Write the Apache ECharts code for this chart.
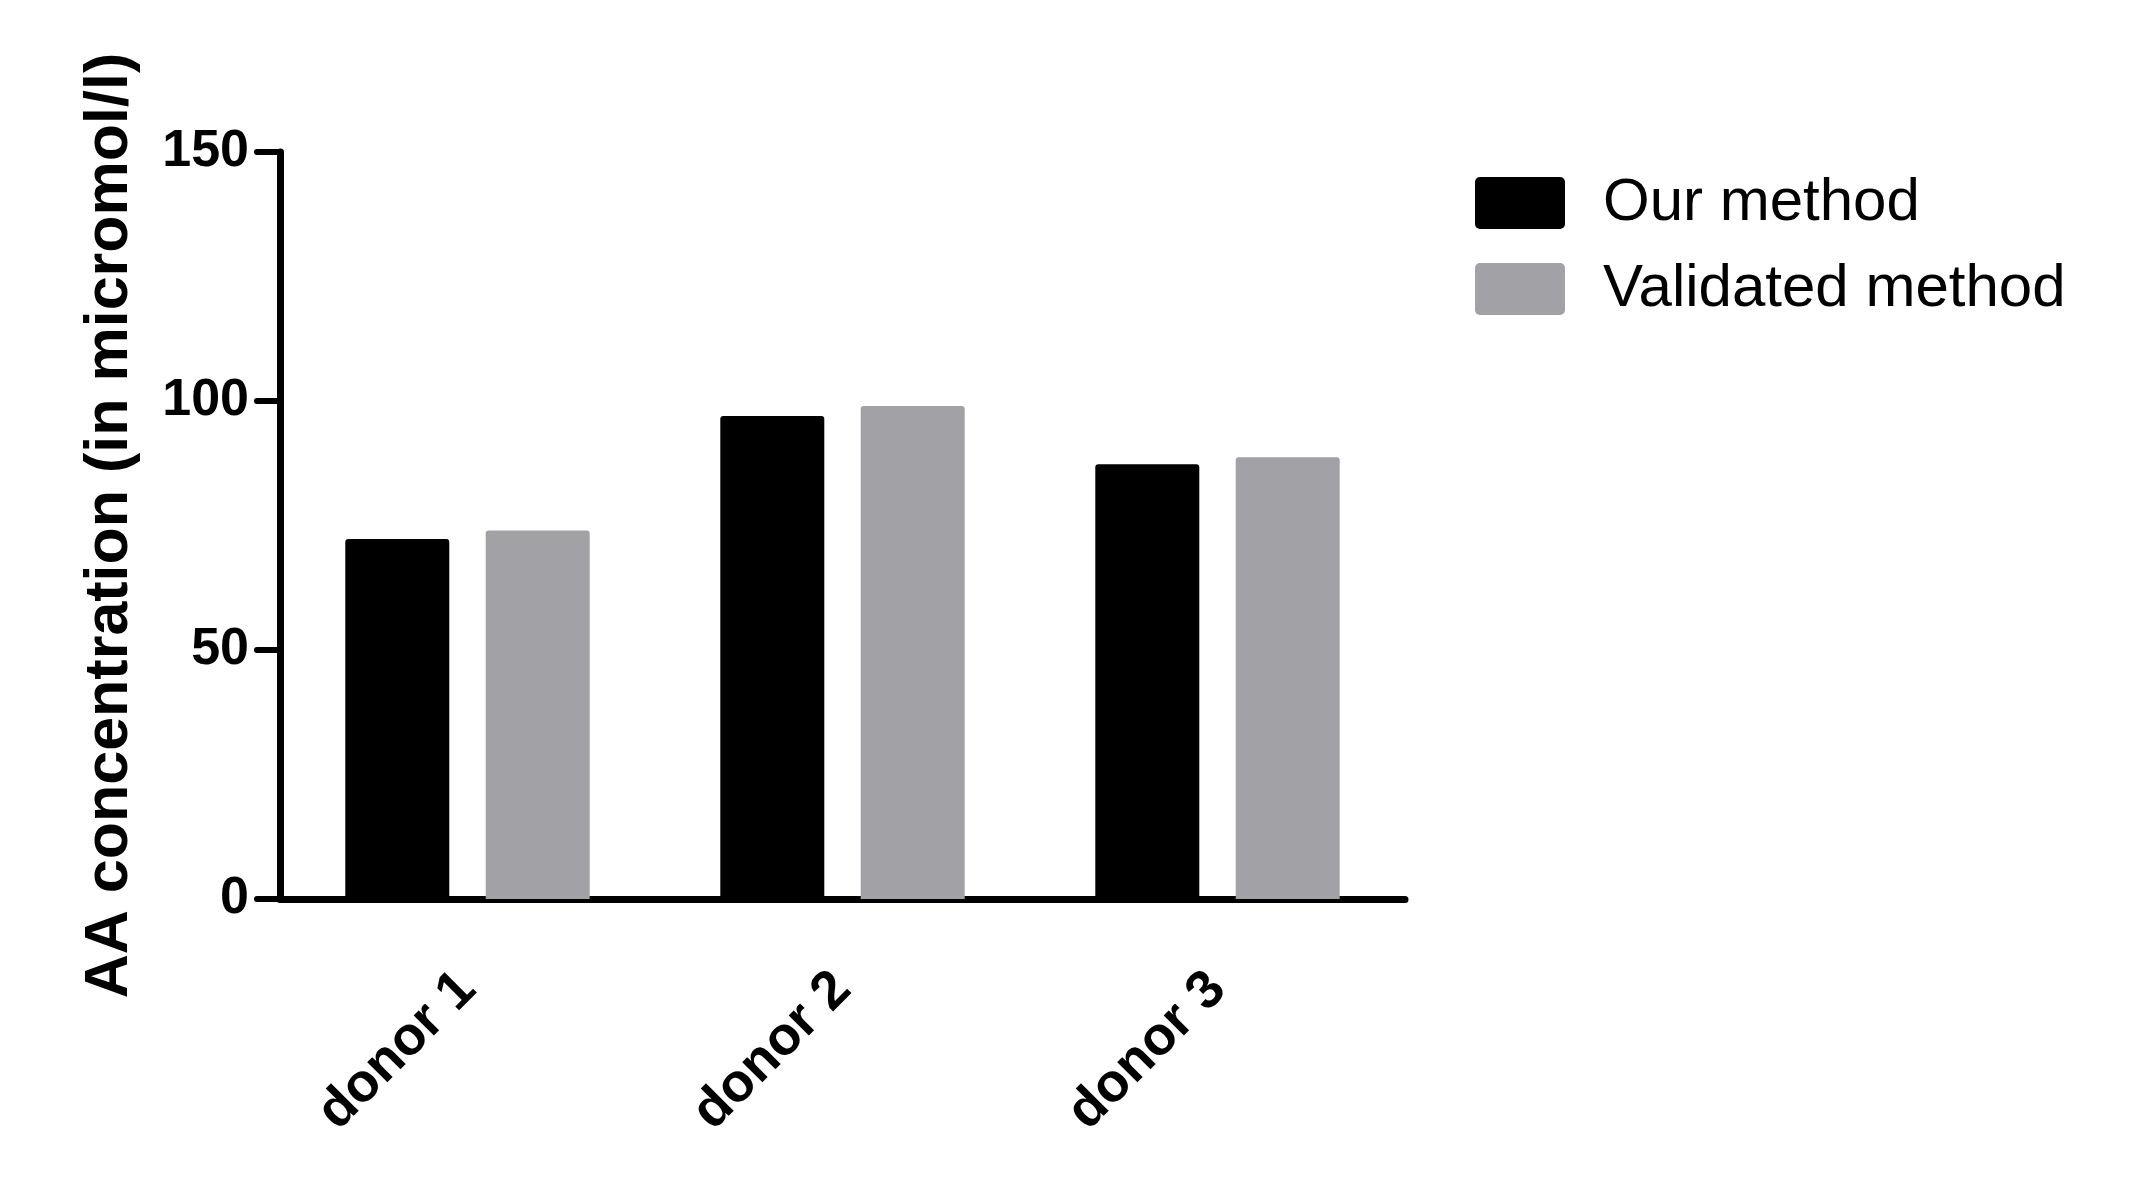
<!DOCTYPE html>
<html>
<head>
<meta charset="utf-8">
<title>AA concentration</title>
<script src="https://cdn.jsdelivr.net/npm/echarts@6/dist/echarts.min.js"></script>
<style>
  html, body { margin: 0; padding: 0; background: #fff; }
  #chart { width: 2131px; height: 1190px; }
</style>
</head>
<body>
<div id="chart"></div>
<script>
// data
var donors = ['donor 1', 'donor 2', 'donor 3']
var ourMethod = [72.3, 97.0, 87.3]
var validatedMethod = [74.0, 99.0, 88.7]
var seriesNames = ['Our method', 'Validated method']
var yTicks = [0, 50, 100, 150]

var font = 'Arial, "Liberation Sans", Helvetica, sans-serif'
var black = '#000000'
var grey = '#a2a1a6'
// rounded rectangle for the legend keys
var keyIcon = 'path://M5,0H85A5,5,0,0,1,90,5V47A5,5,0,0,1,85,52H5A5,5,0,0,1,0,47V5A5,5,0,0,1,5,0Z'

var myChart = echarts.init(document.getElementById('chart'))

myChart.setOption({
  animation: false,
  backgroundColor: '#ffffff',
  grid: {
    left: 280,
    right: 726,
    top: 152,
    bottom: 291,
    containLabel: false
  },
  legend: {
    orient: 'vertical',
    left: 1475,
    top: 173,
    padding: 0,
    itemWidth: 90,
    itemHeight: 52,
    itemGap: 26,
    icon: keyIcon,
    data: seriesNames,
    textStyle: {
      fontFamily: font,
      fontSize: 60,
      color: black,
      padding: [6, 0, 0, 33]
    }
  },
  xAxis: {
    type: 'category',
    data: donors,
    axisLine: { lineStyle: { color: black, width: 7, cap: 'round' } },
    axisTick: {
      alignWithLabel: true,
      length: 22,
      lineStyle: { color: black, width: 6, cap: 'round' }
    },
    axisLabel: {
      rotate: 45,
      margin: 82,
      fontFamily: font,
      fontSize: 54,
      fontWeight: 'bold',
      color: black
    }
  },
  yAxis: {
    type: 'value',
    min: yTicks[0],
    max: yTicks[yTicks.length - 1],
    interval: yTicks[1] - yTicks[0],
    name: 'AA concentration (in micromol/l)',
    nameLocation: 'middle',
    nameRotate: 90,
    nameGap: 139,
    nameTextStyle: {
      fontFamily: font,
      fontSize: 61,
      fontWeight: 'bold',
      color: black
    },
    splitLine: { show: false },
    axisLine: { show: true, lineStyle: { color: black, width: 7, cap: 'round' } },
    axisTick: {
      show: true,
      length: 23,
      lineStyle: { color: black, width: 6, cap: 'round' }
    },
    axisLabel: {
      margin: 31,
      fontFamily: font,
      fontSize: 52,
      fontWeight: 'bold',
      color: black
    }
  },
  series: [
    {
      name: seriesNames[0],
      type: 'bar',
      data: ourMethod,
      barWidth: 104,
      barGap: '35%',
      itemStyle: { color: black, borderRadius: [3, 3, 0, 0] }
    },
    {
      name: seriesNames[1],
      type: 'bar',
      data: validatedMethod,
      barWidth: 104,
      barGap: '35%',
      itemStyle: { color: grey, borderRadius: [3, 3, 0, 0] }
    }
  ]
})
</script>
</body>
</html>
